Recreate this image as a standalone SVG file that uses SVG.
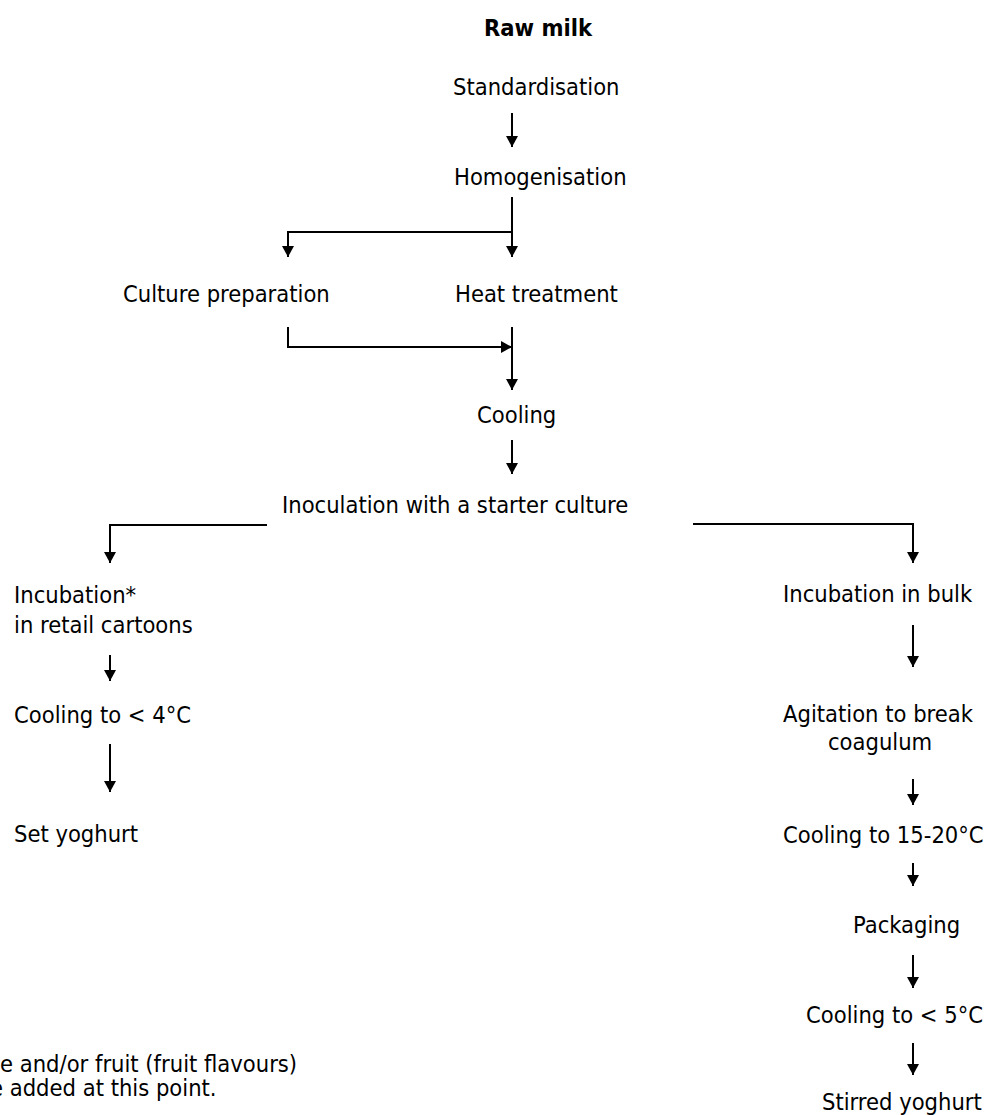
<svg xmlns="http://www.w3.org/2000/svg" width="991" height="1115" viewBox="0 0 991 1115">
<style>
  text { font-family: "DejaVu Sans Condensed", "DejaVu Sans", sans-serif; font-stretch: condensed; font-size: 23.5px; fill: #000; }
  .b { font-weight: bold; }
  .c { fill: none; stroke: #000; stroke-width: 2; }
  .f { font-size: 22.5px; }
</style>
<defs>
  <marker id="ah" markerUnits="userSpaceOnUse" markerWidth="13" markerHeight="13" refX="11" refY="6.5" orient="auto">
    <path d="M0,0.5 L11,6.5 L0,12.5 z" fill="#000"/>
  </marker>
</defs>
<rect width="991" height="1115" fill="#fff"/>
<g id="connectors">
  <path class="c" d="M512,113 V147" marker-end="url(#ah)"/>
  <path class="c" d="M512,197 V257" marker-end="url(#ah)"/>
  <path class="c" d="M512,232 H288 V257" marker-end="url(#ah)"/>
  <path class="c" d="M288,327 V347 H512" marker-end="url(#ah)"/>
  <path class="c" d="M512,327 V390" marker-end="url(#ah)"/>
  <path class="c" d="M512,440 V474" marker-end="url(#ah)"/>
  <path class="c" d="M267,525 H110 V563" marker-end="url(#ah)"/>
  <path class="c" d="M693,524 H913 V563" marker-end="url(#ah)"/>
  <path class="c" d="M913,625 V667" marker-end="url(#ah)"/>
  <path class="c" d="M110,655 V681" marker-end="url(#ah)"/>
  <path class="c" d="M110,744 V792" marker-end="url(#ah)"/>
  <path class="c" d="M913,779 V805" marker-end="url(#ah)"/>
  <path class="c" d="M913,863 V886" marker-end="url(#ah)"/>
  <path class="c" d="M913,955 V988" marker-end="url(#ah)"/>
  <path class="c" d="M913,1043 V1075" marker-end="url(#ah)"/>
</g>
<g id="raw-milk"><text class="b" x="484" y="36">Raw milk</text></g>
<g id="standardisation"><text x="453" y="95">Standardisation</text></g>
<g id="homogenisation"><text x="454" y="185">Homogenisation</text></g>
<g id="culture-preparation"><text x="123" y="302">Culture preparation</text></g>
<g id="heat-treatment"><text x="455" y="302">Heat treatment</text></g>
<g id="cooling"><text x="477" y="423">Cooling</text></g>
<g id="inoculation"><text x="282" y="513">Inoculation with a starter culture</text></g>
<g id="incubation-retail"><text x="14" y="603">Incubation*</text><text x="14" y="633">in retail cartoons</text></g>
<g id="cooling-4"><text x="14" y="723">Cooling to &lt; 4°C</text></g>
<g id="set-yoghurt"><text x="14" y="842">Set yoghurt</text></g>
<g id="incubation-bulk"><text x="783" y="602">Incubation in bulk</text></g>
<g id="agitation"><text x="783" y="722">Agitation to break</text><text x="828" y="750">coagulum</text></g>
<g id="cooling-15-20"><text x="783" y="843">Cooling to 15-20°C</text></g>
<g id="packaging"><text x="853" y="933">Packaging</text></g>
<g id="cooling-5"><text x="806" y="1023">Cooling to &lt; 5°C</text></g>
<g id="stirred-yoghurt"><text x="822" y="1110">Stirred yoghurt</text></g>
<g id="footnote"><text x="0" y="1072">e and/or fruit (fruit flavours)</text><text x="-10" y="1096">e added at this point.</text></g>
</svg>
